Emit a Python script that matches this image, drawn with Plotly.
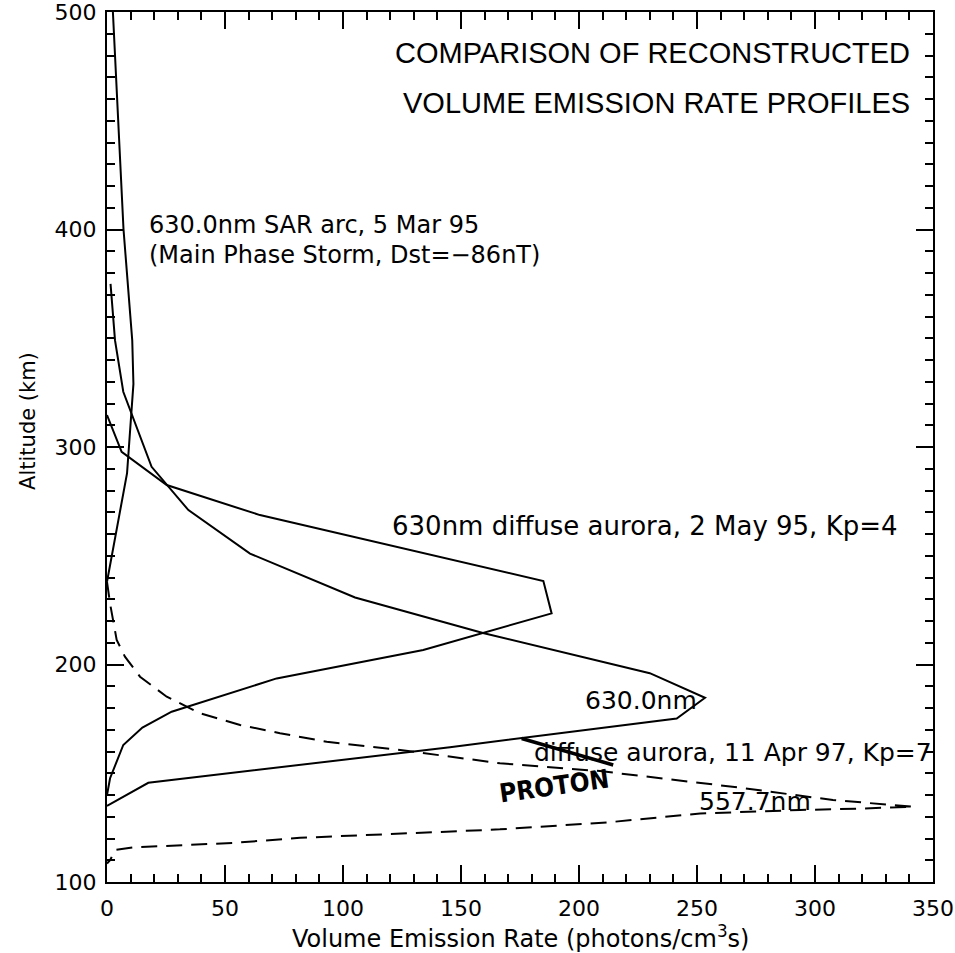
import plotly.graph_objects as go

# 630.0 nm SAR arc, 5 Mar 95
sar_rate = [2.5, 7.0, 10.7, 11.2, 8.5, 0.0]
sar_alt = [500, 400, 349, 329, 288, 238]

# 630 nm diffuse aurora, 2 May 95, Kp=4
may95_rate = [0.0, 6.2, 25.3, 64.8, 184.9, 188.4, 134.0, 94.5, 71.9, 27.4, 15.0, 6.9, 1.3, 0.0]
may95_alt = [314.7, 297.8, 282.5, 268.7, 238.4, 223.5, 206.7, 198.4, 193.6, 178.3, 171.0, 163.0, 147.7, 140.0]

# 630.0 nm diffuse aurora, 11 Apr 97, Kp=7
apr97_rate = [1.5, 3.4, 6.9, 18.9, 34.5, 60.6, 105.1, 159.3, 230.0, 253.4, 241.4, 145.3, 17.5, 0.0]
apr97_alt = [375.0, 349.0, 325.4, 290.9, 271.0, 251.0, 230.8, 214.5, 196.0, 184.7, 175.2, 162.0, 145.6, 135.0]

# 557.7 nm, 11 Apr 97
green_rate = [0.0, 1.3, 4.1, 7.6, 14.0, 25.3, 39.4, 56.4, 73.3, 93.1, 124.2, 166.5, 208.9, 265.0,
              307.6, 341.5, 320.0, 293.6, 251.3, 213.0, 166.5, 124.0, 81.8, 53.5, 11.2, 3.4, 1.3, 0.0]
green_alt = [238.0, 228.0, 211.3, 203.6, 194.4, 185.2, 177.6, 172.2, 168.4, 164.5, 160.7, 154.6, 151.0, 143.8,
             137.7, 134.6, 133.8, 133.1, 131.5, 127.5, 124.2, 122.3, 120.3, 118.0, 115.9, 114.7, 110.0, 108.5]

# hand-drawn strike through "diffuse"
proton_stroke_rate = [175.7, 214.5]
proton_stroke_alt = [166.0, 153.8]

x_ticks = [0, 50, 100, 150, 200, 250, 300, 350]
y_ticks = [100, 200, 300, 400, 500]

FONT = "DejaVu Sans"
line = dict(color="black", width=2)

fig = go.Figure()
fig.add_trace(go.Scatter(x=sar_rate, y=sar_alt, mode="lines", line=line))
fig.add_trace(go.Scatter(x=may95_rate, y=may95_alt, mode="lines", line=line))
fig.add_trace(go.Scatter(x=apr97_rate, y=apr97_alt, mode="lines", line=line))
fig.add_trace(go.Scatter(x=green_rate, y=green_alt, mode="lines",
                         line=dict(color="black", width=2, dash="16px,9px")))
fig.add_trace(go.Scatter(x=proton_stroke_rate, y=proton_stroke_alt, mode="lines",
                         line=dict(color="black", width=3.5)))

axis_common = dict(
    ticks="inside", ticklen=17, tickwidth=2, tickcolor="black",
    showline=True, linewidth=2, linecolor="black", mirror="ticks",
    showgrid=False, zeroline=False, automargin=False, ticklabeloverflow="allow",
    tickfont=dict(family=FONT, size=22, color="black"),
    minor=dict(dtick=10, ticks="inside", ticklen=8, tickwidth=2, tickcolor="black", showgrid=False),
)
fig.update_xaxes(range=[0, 350], tickvals=x_ticks, ticklabelstandoff=6, **axis_common)
fig.update_yaxes(range=[100, 500], tickvals=y_ticks, ticklabelstandoff=4, **axis_common)


def label(text, x, y, size=25, family=FONT, anchor="left", **kw):
    fig.add_annotation(text=text, x=x, y=y, xref="x", yref="y", showarrow=False,
                       xanchor=anchor, yanchor="middle",
                       font=dict(family=family, size=size, color="black"), **kw)


label("COMPARISON OF RECONSTRUCTED", 341, 481, size=29, family="Liberation Sans", anchor="right")
label("VOLUME EMISSION RATE PROFILES", 341, 458, size=29, family="Liberation Sans", anchor="right")
label("630.0nm SAR arc, 5 Mar 95", 16.9, 402, size=24)
label("(Main Phase Storm, Dst=\u221286nT)", 16.9, 388.3, size=24)
label("630nm diffuse aurora, 2 May 95, Kp=4", 119.9, 263.7, size=26)
label("630.0nm", 201.8, 183.3)
label("diffuse aurora, 11 Apr 97, Kp=7", 180, 159.4)
label("557.7nm", 249.9, 136.9)
label("<b>PROTON</b>", 189.4, 144.1, size=26, family="DejaVu Sans Condensed", anchor="center", textangle=-8)

# axis titles
fig.add_annotation(text="Volume Emission Rate (photons/cm<sup>3</sup>s)", xref="paper", yref="paper",
                   x=0.5, y=-0.063, xanchor="center", yanchor="middle", showarrow=False,
                   font=dict(family=FONT, size=24, color="black"))
fig.add_annotation(text="Altitude (km)", xref="paper", yref="paper",
                   x=-0.0956, y=0.53, xanchor="center", yanchor="middle", showarrow=False, textangle=-90,
                   font=dict(family=FONT, size=21, color="black"))

fig.update_layout(
    width=955, height=953,
    margin=dict(l=107, r=22, t=12, b=71),
    plot_bgcolor="white", paper_bgcolor="white",
    showlegend=False,
)

fig.write_html("out.html")
